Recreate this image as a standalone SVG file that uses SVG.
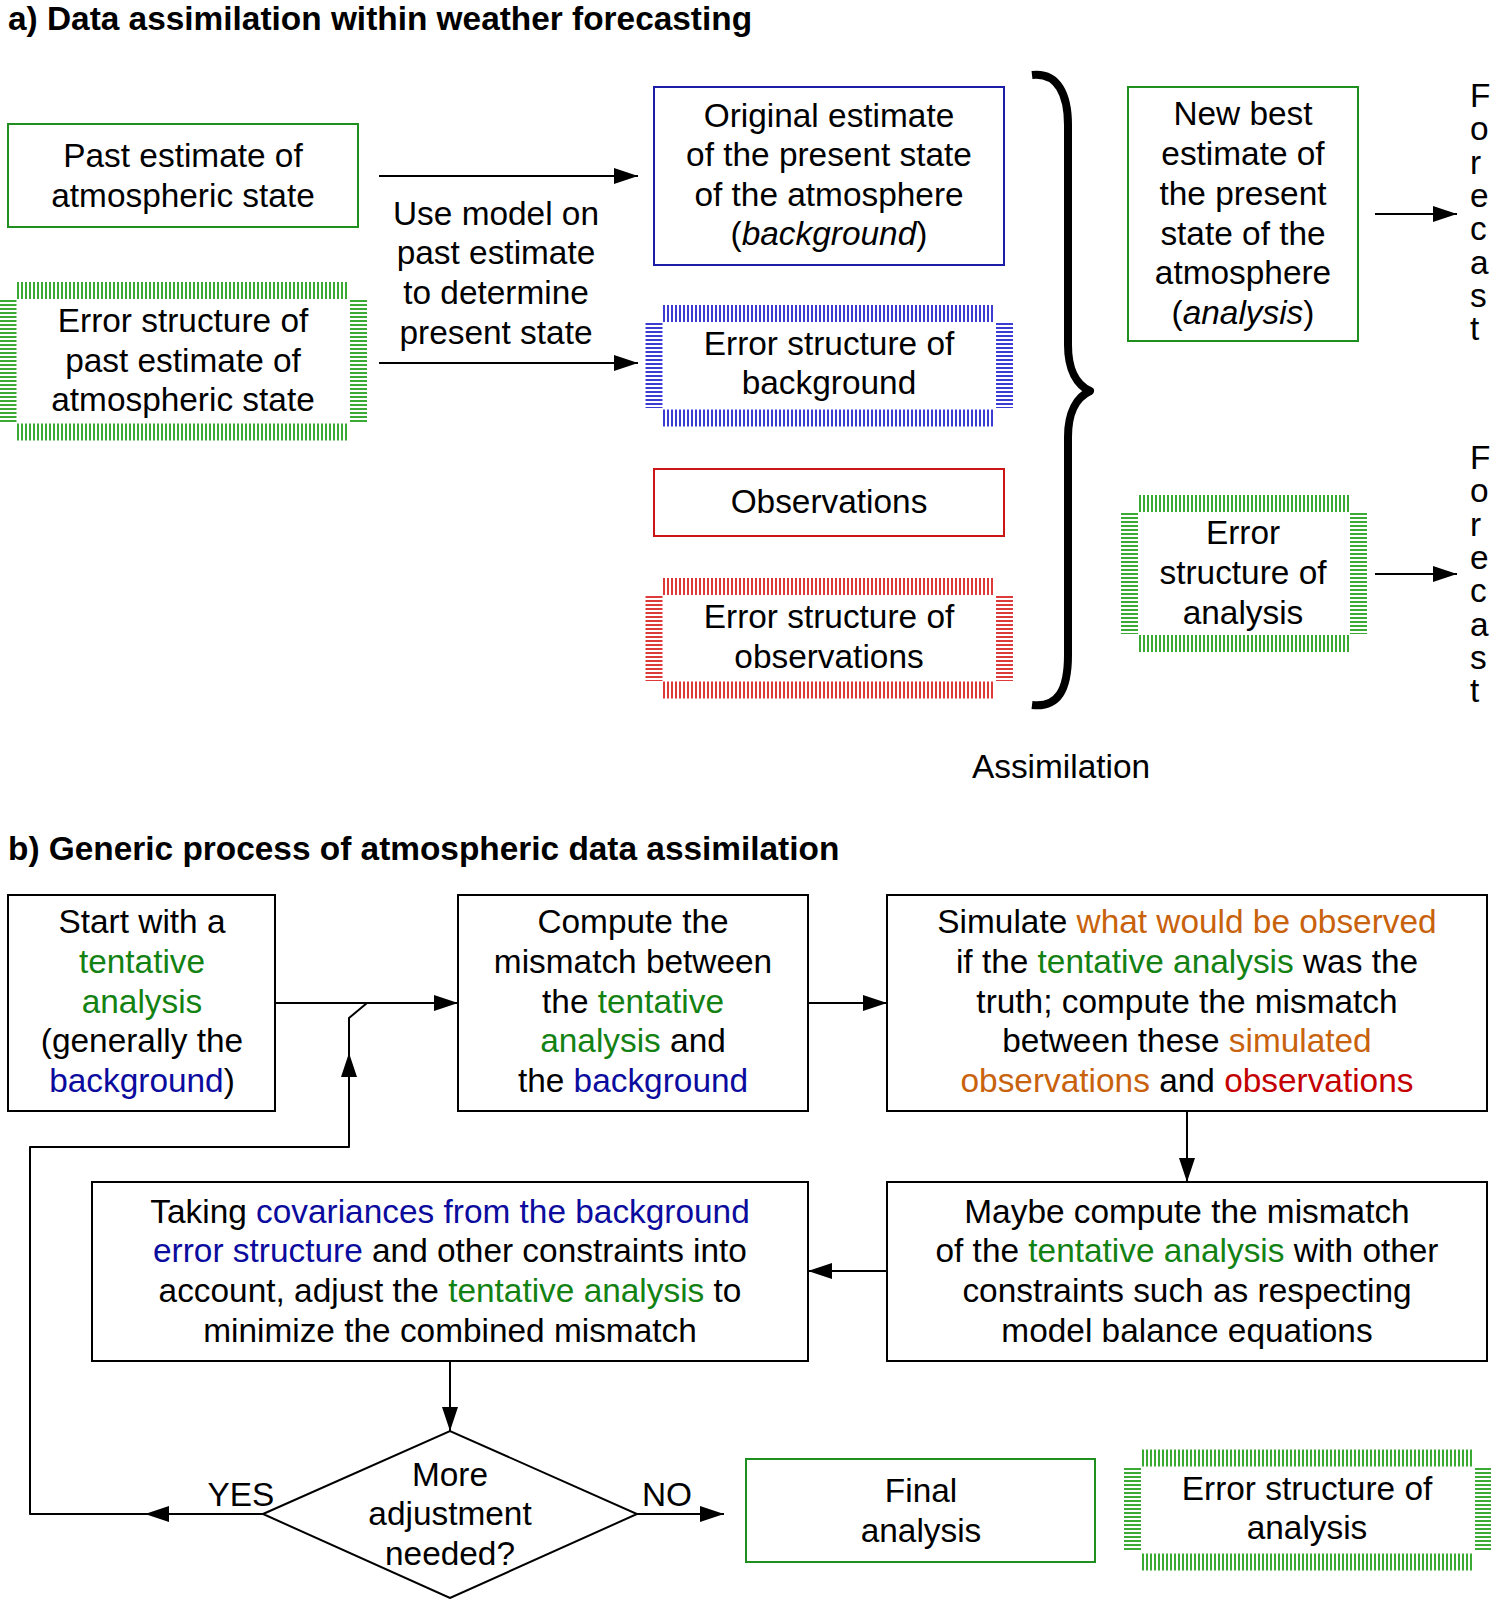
<svg xmlns="http://www.w3.org/2000/svg" width="1491" height="1599" viewBox="0 0 1491 1599">
<defs>
<style>
text{font-family:"Liberation Sans",Arial,Helvetica,sans-serif;font-size:33.4px;fill:#000;text-anchor:middle}
.title{font-weight:bold;text-anchor:start}
.st{text-anchor:start}
.box{fill:#fff;stroke-width:2}
.bk{stroke:#000}
.gb{stroke:#1f8f1f}
.bb{stroke:#1c1ca6}
.rb{stroke:#cc1616}
.hatch{stroke-width:17;stroke-dasharray:2 2;fill:none}
.hg{stroke:#3aaa35}
.hb{stroke:#3c3cd2}
.hr{stroke:#dd3a3a}
.g{fill:#138213}
.b{fill:#0b0b9e}
.o{fill:#c8620c}
.r{fill:#c40000}
.conn{stroke:#000;stroke-width:2;fill:none;stroke-linejoin:round}
.arr{marker-end:url(#ah)}
</style>
<marker id="ah" markerUnits="userSpaceOnUse" markerWidth="24" markerHeight="16" refX="24" refY="8" orient="auto" viewBox="0 0 24 16"><path d="M0,0 L24,8 L0,16 z" fill="#000"/></marker>
</defs>
<rect width="1491" height="1599" fill="#fff"/>

<text class="title" x="8" y="30">a) Data assimilation within weather forecasting</text>
<text class="title" x="8" y="860">b) Generic process of atmospheric data assimilation</text>

<g id="connectors">
<path class="conn arr" d="M379,176 H638"/>
<path class="conn arr" d="M379,363 H638"/>
<path class="conn arr" d="M1375,214 H1457"/>
<path class="conn arr" d="M1375,574 H1457"/>
<path d="M1032,75 C1058,72 1068,95 1068,125 L1068,345 C1068,370 1077,385 1090,391 C1077,397 1068,412 1068,437 L1068,655 C1068,690 1058,708 1032,705" fill="none" stroke="#000" stroke-width="8" stroke-linejoin="round"/>
<path class="conn arr" d="M275,1003 H458"/>
<path class="conn arr" d="M808,1003 H887"/>
<path class="conn arr" d="M1187,1111 V1182"/>
<path class="conn arr" d="M887,1271 H808"/>
<path class="conn arr" d="M450,1361 V1431"/>
<path class="conn arr" d="M637,1514 H724"/>
<path class="conn arr" d="M263,1514 H145"/>
<path class="conn arr" d="M145,1514 H30 V1147 H349 V1053"/>
<path class="conn" d="M349,1060 V1018 L367,1003"/>
</g>

<g id="past-estimate">
<rect class="box gb" x="8" y="124" width="350" height="103"/>
<text x="183" y="167">Past estimate of</text>
<text x="183" y="207">atmospheric state</text>
</g>

<g id="past-error">
<line class="hatch hg" x1="17" y1="290.5" x2="349" y2="290.5"/>
<line class="hatch hg" x1="17" y1="432" x2="349" y2="432"/>
<line class="hatch hg" x1="8" y1="300" x2="8" y2="423"/>
<line class="hatch hg" x1="358.5" y1="300" x2="358.5" y2="423"/>
<text x="183" y="332">Error structure of</text>
<text x="183" y="372">past estimate of</text>
<text x="183" y="411">atmospheric state</text>
</g>

<g id="use-model">
<text x="496" y="225">Use model on</text>
<text x="496" y="264">past estimate</text>
<text x="496" y="304">to determine</text>
<text x="496" y="344">present state</text>
</g>

<g id="background">
<rect class="box bb" x="654" y="87" width="350" height="178"/>
<text x="829" y="127">Original estimate</text>
<text x="829" y="166">of the present state</text>
<text x="829" y="206">of the atmosphere</text>
<text x="829" y="245">(<tspan font-style="italic">background</tspan>)</text>
</g>

<g id="background-error">
<line class="hatch hb" x1="663" y1="313.5" x2="995" y2="313.5"/>
<line class="hatch hb" x1="663" y1="418" x2="995" y2="418"/>
<line class="hatch hb" x1="654" y1="323" x2="654" y2="408"/>
<line class="hatch hb" x1="1004.5" y1="323" x2="1004.5" y2="408"/>
<text x="829" y="355">Error structure of</text>
<text x="829" y="394">background</text>
</g>

<g id="observations">
<rect class="box rb" x="654" y="469" width="350" height="67"/>
<text x="829" y="513">Observations</text>
</g>

<g id="observations-error">
<line class="hatch hr" x1="663" y1="586.5" x2="995" y2="586.5"/>
<line class="hatch hr" x1="663" y1="690" x2="995" y2="690"/>
<line class="hatch hr" x1="654" y1="596" x2="654" y2="681"/>
<line class="hatch hr" x1="1004.5" y1="596" x2="1004.5" y2="681"/>
<text x="829" y="628">Error structure of</text>
<text x="829" y="668">observations</text>
</g>

<g id="assimilation-label">
<text x="1061" y="778">Assimilation</text>
</g>

<g id="analysis">
<rect class="box gb" x="1128" y="87" width="230" height="254"/>
<text x="1243" y="125">New best</text>
<text x="1243" y="165">estimate of</text>
<text x="1243" y="205">the present</text>
<text x="1243" y="245">state of the</text>
<text x="1243" y="284">atmosphere</text>
<text x="1243" y="324">(<tspan font-style="italic">analysis</tspan>)</text>
</g>

<g id="forecast-1">
<text class="st" x="1470" y="107">F<tspan x="1470" dy="33.3">o</tspan><tspan x="1470" dy="33.3">r</tspan><tspan x="1470" dy="33.3">e</tspan><tspan x="1470" dy="33.3">c</tspan><tspan x="1470" dy="33.3">a</tspan><tspan x="1470" dy="33.3">s</tspan><tspan x="1470" dy="33.3">t</tspan></text>
</g>

<g id="analysis-error">
<line class="hatch hg" x1="1139" y1="503.5" x2="1349" y2="503.5"/>
<line class="hatch hg" x1="1139" y1="643.5" x2="1349" y2="643.5"/>
<line class="hatch hg" x1="1129.5" y1="513" x2="1129.5" y2="634"/>
<line class="hatch hg" x1="1358.5" y1="513" x2="1358.5" y2="634"/>
<text x="1243" y="544">Error</text>
<text x="1243" y="584">structure of</text>
<text x="1243" y="624">analysis</text>
</g>

<g id="forecast-2">
<text class="st" x="1470" y="469">F<tspan x="1470" dy="33.3">o</tspan><tspan x="1470" dy="33.3">r</tspan><tspan x="1470" dy="33.3">e</tspan><tspan x="1470" dy="33.3">c</tspan><tspan x="1470" dy="33.3">a</tspan><tspan x="1470" dy="33.3">s</tspan><tspan x="1470" dy="33.3">t</tspan></text>
</g>

<g id="start">
<rect class="box bk" x="8" y="895" width="267" height="216"/>
<text x="142" y="933">Start with a</text>
<text x="142" y="973" class="g">tentative</text>
<text x="142" y="1013" class="g">analysis</text>
<text x="142" y="1052">(generally the</text>
<text x="142" y="1092"><tspan class="b">background</tspan>)</text>
</g>

<g id="compute-mismatch">
<rect class="box bk" x="458" y="895" width="350" height="216"/>
<text x="633" y="933">Compute the</text>
<text x="633" y="973">mismatch between</text>
<text x="633" y="1013">the <tspan class="g">tentative</tspan></text>
<text x="633" y="1052"><tspan class="g">analysis</tspan> and</text>
<text x="633" y="1092">the <tspan class="b">background</tspan></text>
</g>

<g id="simulate">
<rect class="box bk" x="887" y="895" width="600" height="216"/>
<text x="1187" y="933">Simulate <tspan class="o">what would be observed</tspan></text>
<text x="1187" y="973">if the <tspan class="g">tentative analysis</tspan> was the</text>
<text x="1187" y="1013">truth; compute the mismatch</text>
<text x="1187" y="1052">between these <tspan class="o">simulated</tspan></text>
<text x="1187" y="1092"><tspan class="o">observations</tspan> and <tspan class="r">observations</tspan></text>
</g>

<g id="maybe-compute">
<rect class="box bk" x="887" y="1182" width="600" height="179"/>
<text x="1187" y="1223">Maybe compute the mismatch</text>
<text x="1187" y="1262">of the <tspan class="g">tentative analysis</tspan> with other</text>
<text x="1187" y="1302">constraints such as respecting</text>
<text x="1187" y="1342">model balance equations</text>
</g>

<g id="adjust">
<rect class="box bk" x="92" y="1182" width="716" height="179"/>
<text x="450" y="1223">Taking <tspan class="b">covariances from the background</tspan></text>
<text x="450" y="1262"><tspan class="b">error structure</tspan> and other constraints into</text>
<text x="450" y="1302">account, adjust the <tspan class="g">tentative analysis</tspan> to</text>
<text x="450" y="1342">minimize the combined mismatch</text>
</g>

<g id="decision">
<polygon points="263,1514 450,1431 637,1514 450,1598" fill="#fff" stroke="#000" stroke-width="2"/>
<text x="450" y="1486">More</text>
<text x="450" y="1525">adjustment</text>
<text x="450" y="1565">needed?</text>
</g>

<g id="yes-no-labels">
<text x="241" y="1506">YES</text>
<text x="667" y="1506">NO</text>
</g>

<g id="final-analysis">
<rect class="box gb" x="746" y="1459" width="349" height="103"/>
<text x="921" y="1502">Final</text>
<text x="921" y="1542">analysis</text>
</g>

<g id="final-error">
<line class="hatch hg" x1="1142" y1="1458" x2="1474" y2="1458"/>
<line class="hatch hg" x1="1142" y1="1562" x2="1474" y2="1562"/>
<line class="hatch hg" x1="1132.5" y1="1468" x2="1132.5" y2="1552"/>
<line class="hatch hg" x1="1483.5" y1="1468" x2="1483.5" y2="1552"/>
<text x="1307" y="1500">Error structure of</text>
<text x="1307" y="1539">analysis</text>
</g>
</svg>
